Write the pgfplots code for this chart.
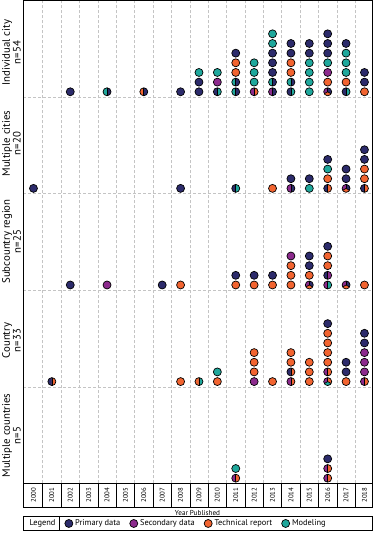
\documentclass[border=0pt]{standalone}
\usepackage{fontspec}
\setmainfont{PT Sans}
\usepackage{pgfplots}
\usepackage{pgfplotstable}
\pgfplotsset{compat=1.18}

% 1 primary, 2 secondary, 3 technical report, 4 modeling
\definecolor{c1}{HTML}{2C2B6B}
\definecolor{c2}{HTML}{8C2A8D}
\definecolor{c3}{HTML}{F26430}
\definecolor{c4}{HTML}{1FA89C}
\definecolor{gridc}{HTML}{C4C4C4}

\newcommand\dotr{4pt}
\newcommand\pieSector[3]{%
  \pgfsetfillcolor{c#1}%
  \pgfpathmoveto{\pgfpointorigin}%
  \pgfpathlineto{\pgfpointpolar{#2}{\dotr}}%
  \pgfpatharc{#2}{#3}{\dotr}%
  \pgfpathclose
  \pgfusepath{fill}}
\newcommand\pieSpoke[1]{%
  \pgfpathmoveto{\pgfpointorigin}\pgfpathlineto{\pgfpointpolar{#1}{\dotr}}\pgfusepath{stroke}}

\def\colA{1}\def\colB{0}\def\colC{0}
% A = colour (or left half / upper left), B = right half / upper right, C = lower third
\pgfdeclareplotmark{pie}{%
  \pgfmathtruncatemacro\iA{\colA}%
  \pgfmathtruncatemacro\iB{\colB}%
  \pgfmathtruncatemacro\iC{\colC}%
  \pgfsetstrokecolor{black}\pgfsetlinewidth{0.7pt}%
  \ifnum\iB=0\relax
    \pieSector{\iA}{0}{360}%
  \else\ifnum\iC=0\relax
    \pieSector{\iA}{90}{270}\pieSector{\iB}{-90}{90}%
    \pieSpoke{90}\pieSpoke{270}%
  \else
    \pieSector{\iA}{90}{210}\pieSector{\iC}{210}{330}\pieSector{\iB}{-30}{90}%
    \pieSpoke{90}\pieSpoke{210}\pieSpoke{330}%
  \fi\fi
  \pgfpathcircle{\pgfpointorigin}{\dotr}\pgfusepath{stroke}}

% panel: 1 individual city ... 5 multiple countries; lev: position in stack
\pgfplotstableread{
year panel lev a b c
2002 1 1 1 0 0
2004 1 1 4 1 0
2006 1 1 3 1 0
2008 1 1 1 0 0
2009 1 1 1 0 0
2009 1 2 1 0 0
2009 1 3 4 0 0
2010 1 1 1 4 0
2010 1 2 2 0 0
2010 1 3 4 0 0
2011 1 1 4 1 0
2011 1 2 4 1 0
2011 1 3 3 0 0
2011 1 4 3 0 0
2011 1 5 1 0 0
2012 1 1 2 3 0
2012 1 2 4 0 0
2012 1 3 4 0 0
2012 1 4 4 0 0
2013 1 1 2 1 0
2013 1 2 4 1 0
2013 1 3 1 0 0
2013 1 4 1 0 0
2013 1 5 1 0 0
2013 1 6 4 0 0
2013 1 7 4 0 0
2014 1 1 1 4 0
2014 1 2 4 1 0
2014 1 3 3 0 0
2014 1 4 3 0 0
2014 1 5 1 0 0
2014 1 6 1 0 0
2015 1 1 4 0 0
2015 1 2 4 0 0
2015 1 3 4 0 0
2015 1 4 4 0 0
2015 1 5 1 0 0
2015 1 6 1 0 0
2016 1 1 2 1 3
2016 1 2 3 0 0
2016 1 3 2 0 0
2016 1 4 4 0 0
2016 1 5 1 0 0
2016 1 6 1 0 0
2016 1 7 1 0 0
2017 1 1 1 4 0
2017 1 2 3 0 0
2017 1 3 4 0 0
2017 1 4 4 0 0
2017 1 5 4 0 0
2017 1 6 1 0 0
2018 1 1 3 0 0
2018 1 2 1 0 0
2018 1 3 1 0 0
2000 2 1 1 0 0
2008 2 1 1 0 0
2011 2 1 1 4 0
2013 2 1 3 0 0
2014 2 1 2 1 0
2014 2 2 1 0 0
2015 2 1 4 0 0
2015 2 2 1 0 0
2016 2 1 1 3 0
2016 2 2 3 0 0
2016 2 3 4 0 0
2016 2 4 1 0 0
2017 2 1 2 1 3
2017 2 2 1 0 0
2017 2 3 1 0 0
2018 2 1 1 3 0
2018 2 2 3 0 0
2018 2 3 3 0 0
2018 2 4 1 0 0
2018 2 5 1 0 0
2002 3 1 1 0 0
2004 3 1 2 0 0
2007 3 1 1 0 0
2008 3 1 3 0 0
2011 3 1 3 0 0
2011 3 2 1 0 0
2012 3 1 3 0 0
2012 3 2 1 0 0
2013 3 1 3 0 0
2013 3 2 1 0 0
2014 3 1 3 0 0
2014 3 2 3 0 0
2014 3 3 3 0 0
2014 3 4 2 0 0
2015 3 1 2 1 3
2015 3 2 3 0 0
2015 3 3 1 0 0
2015 3 4 1 0 0
2016 3 1 2 4 0
2016 3 2 1 2 0
2016 3 3 3 0 0
2016 3 4 3 0 0
2016 3 5 1 0 0
2017 3 1 2 1 3
2018 3 1 3 0 0
2001 4 1 1 3 0
2008 4 1 3 0 0
2009 4 1 3 4 0
2010 4 1 3 0 0
2010 4 2 4 0 0
2012 4 1 2 0 0
2012 4 2 3 0 0
2012 4 3 3 0 0
2012 4 4 3 0 0
2013 4 1 3 0 0
2014 4 1 2 3 0
2014 4 2 1 3 0
2014 4 3 3 0 0
2014 4 4 3 0 0
2015 4 1 3 0 0
2015 4 2 3 0 0
2015 4 3 3 0 0
2016 4 1 2 3 4
2016 4 2 2 3 0
2016 4 3 3 0 0
2016 4 4 3 0 0
2016 4 5 3 0 0
2016 4 6 3 0 0
2016 4 7 1 0 0
2017 4 1 3 0 0
2017 4 2 1 0 0
2017 4 3 1 0 0
2018 4 1 2 3 0
2018 4 2 2 0 0
2018 4 3 2 0 0
2018 4 4 2 0 0
2018 4 5 1 0 0
2018 4 6 1 0 0
2011 5 1 2 3 0
2011 5 2 4 0 0
2016 5 1 2 3 0
2016 5 2 2 3 0
2016 5 3 1 0 0
}\dotdata

\begin{document}
\begin{tikzpicture}
\begin{axis}[
  name=ax,
  scale only axis,
  width=349pt, height=483pt,
  xmin=1999.43, xmax=2018.41,
  ymin=0, ymax=50,
  clip=false,
  axis line style={black, line width=0.7pt},
  xtick={2000,2001,...,2018},
  xticklabels={2000,2001,2002,2003,2004,2005,2006,2007,2008,2009,2010,2011,2012,2013,2014,2015,2016,2017,2018},
  xtick pos=left,
  xtick align=outside,
  major tick length=0pt,
  minor xtick={2000.5,2001.5,...,2017.5},
  minor tick length=24pt,
  minor x tick style={black, line width=0.4pt},
  xminorgrids=true,
  minor x grid style={gridc, dash pattern=on 3pt off 2pt, line width=0.5pt},
  ytick={10,20,30,40},
  yticklabels={},
  ytick pos=left,
  ymajorgrids=true,
  major y grid style={gridc, dash pattern=on 3pt off 2pt, line width=0.5pt},
  xticklabel style={rotate=90, anchor=east, font=\fontsize{6.8}{7}\selectfont, inner sep=0pt},
  xticklabel shift=4pt,
  legend style={at={(0.004,-0.0828)}, anchor=west, draw=none, fill=none,
    legend columns=-1, font=\fontsize{8.4}{9}\selectfont,
    /tikz/every even column/.append style={column sep=7pt},
    /tikz/every odd column/.append style={column sep=0pt}},
  legend cell align=left,
]
\addplot[only marks, mark=pie, forget plot,
  visualization depends on={\thisrow{a}\as\colA},
  visualization depends on={\thisrow{b}\as\colB},
  visualization depends on={\thisrow{c}\as\colC},
] table[x=year, y expr={(5-\thisrow{panel})*10+\thisrow{lev}-0.45}] \dotdata;

\addlegendimage{empty legend}\addlegendentry{Legend}
\addlegendimage{legend image code/.code={\draw[fill=c1, draw=black, line width=0.7pt] (0pt,0pt) circle (4pt);}}
\addlegendentry{Primary data}
\addlegendimage{legend image code/.code={\draw[fill=c2, draw=black, line width=0.7pt] (0pt,0pt) circle (4pt);}}
\addlegendentry{Secondary data}
\addlegendimage{legend image code/.code={\draw[fill=c3, draw=black, line width=0.7pt] (0pt,0pt) circle (4pt);}}
\addlegendentry{Technical report}
\addlegendimage{legend image code/.code={\draw[fill=c4, draw=black, line width=0.7pt] (0pt,0pt) circle (4pt);}}
\addlegendentry{Modeling}
\end{axis}

% panel labels
\begin{scope}[every node/.style={rotate=90, align=center, inner sep=0pt, font=\fontsize{10.8}{9.5}\selectfont}]
\node at ([xshift=-11.5pt, yshift=-52pt]ax.north west) {Individual city\\n=54};
\node at ([xshift=-11.5pt, yshift=-143pt]ax.north west) {Multiple cities\\n=20};
\node at ([xshift=-11.5pt, yshift=-241pt]ax.north west) {Subcountry region\\n=25};
\node at ([xshift=-11.5pt, yshift=-340pt]ax.north west) {Country\\n=33};
\node at ([xshift=-11.5pt, yshift=-435pt]ax.north west) {Multiple countries\\n=5};
\end{scope}

% year label box and axis title
\draw[line width=0.7pt] (ax.south west) -- ++(0,-24pt) -| (ax.south east);
\node[font=\fontsize{7.2}{8}\selectfont] at ([yshift=-29.5pt]ax.south) {Year Published};

% legend frame
\draw[line width=0.7pt] ([yshift=-33pt]ax.south west) rectangle ([yshift=-47pt]ax.south east);
\draw[line width=0.7pt] ([xshift=36pt, yshift=-33pt]ax.south west) -- ++(0,-14pt);

\pgfresetboundingbox
\path ([xshift=-23pt, yshift=0.5pt]ax.north west) rectangle ++(375pt,-534pt);
\end{tikzpicture}
\end{document}
